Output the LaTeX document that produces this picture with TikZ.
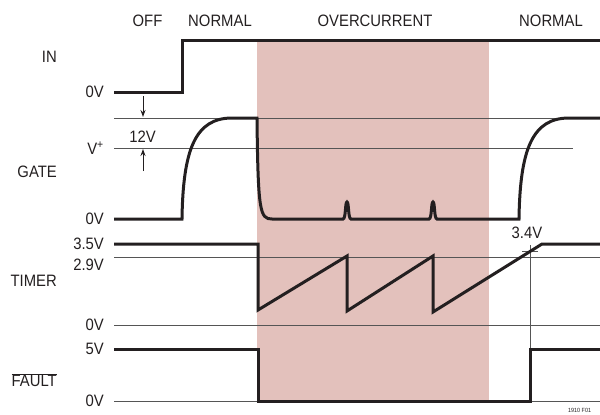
\documentclass[tikz,border=0pt]{standalone}
\usepackage{fontspec}
\setmainfont{Liberation Sans}[FakeStretch=0.9]
\usetikzlibrary{arrows.meta}
\definecolor{pinkbg}{RGB}{227,193,188}
\definecolor{inkc}{RGB}{35,31,32}
\definecolor{refc}{RGB}{85,85,85}
\tikzset{
  wave/.style={line width=3pt, draw=inkc},
  refline/.style={line width=0.9pt, draw=refc},
  lbl/.style={font=\fontsize{16.5}{18}\selectfont, text=inkc, inner sep=0pt},
  rlbl/.style={lbl, anchor=east},
  dimarrow/.style={line width=1pt, draw=inkc, -{Stealth[length=7pt,width=5pt]}}
}
\begin{document}
\begin{tikzpicture}[x=1pt,y=-1pt]
\useasboundingbox (0,0) rectangle (600,415);
% shaded overcurrent region
\fill[pinkbg] (257,39) rectangle (489,401);
% reference lines
\draw[refline] (114,118) -- (600,118);
\draw[refline] (114,148) -- (573,148);
\draw[refline] (114,257) -- (600,257);
\draw[refline] (114,325) -- (600,325);
\draw[refline] (114,401) -- (600,401);
\draw[refline] (530,245) -- (530,401);
\draw[refline] (522,251) -- (538,251);
% waveforms
\draw[wave] (114,92) -- (182,92) -- (182,40) -- (600,40);
\draw[wave] (114,219) -- (182,219)
  .. controls (183,150) and (195,118) .. (232,118) -- (257,118)
  .. controls (258,212) and (260,219) .. (272,219) -- (343,219)
  .. controls (346,219) and (345,202) .. (347,202)
  .. controls (349,202) and (348,219) .. (351,219) -- (429,219)
  .. controls (432,219) and (431,202) .. (433,202)
  .. controls (435,202) and (434,219) .. (437,219) -- (519,219)
  .. controls (520,150) and (532,118) .. (569,118) -- (600,118);
\draw[wave] (114,244) -- (258,244) -- (258,310) -- (347,256) -- (347,311)
  -- (433,256) -- (433,312) -- (542,244) -- (600,244);
\draw[wave] (114,349) -- (258,349) -- (258,401) -- (530,401) -- (530,349) -- (600,349);
% 12V dimension arrows
\coordinate (a1s) at (143,96);
\coordinate (a1e) at (143,117);
\coordinate (a2s) at (143,171);
\coordinate (a2e) at (143,149);
\draw[dimarrow] (a1s) -- (a1e);
\draw[dimarrow] (a2s) -- (a2e);
% top labels
\node[lbl] (off) at (147.5,21) {OFF};
\node[lbl] (norm1) at (220,21) {NORMAL};
\node[lbl] (oc) at (375,21) {OVERCURRENT};
\node[lbl] (norm2) at (551,21) {NORMAL};
% signal names
\node[rlbl] (in) at (57,57) {IN};
\node[rlbl] (gate) at (57,172) {GATE};
\node[rlbl] (timer) at (57,281) {TIMER};
\node[rlbl] (fault) at (57,380) {$\overline{\hbox{FAULT}}$};
% level labels
\node[rlbl] (in0) at (104,92) {0V};
\node[rlbl] (vplus) at (104,148) {V\textsuperscript{+}};
\node[lbl] (twelve) at (142.5,137) {12V};
\node[rlbl] (g0) at (104,219) {0V};
\node[rlbl] (t35) at (104,243.5) {3.5V};
\node[rlbl] (t29) at (104,265) {2.9V};
\node[rlbl] (t0) at (104,324.5) {0V};
\node[rlbl] (f5) at (104,348.5) {5V};
\node[rlbl] (f0) at (104,400.5) {0V};
\node[lbl] (t34) at (527,233) {3.4V};
\node[anchor=west, inner sep=0pt, font=\fontsize{6}{7}\selectfont, text=inkc] (fig) at (568,410) {1910 F01};
\end{tikzpicture}
\end{document}
